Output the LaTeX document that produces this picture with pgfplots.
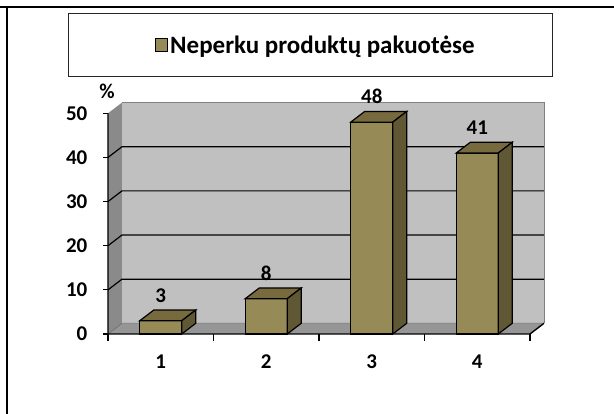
\documentclass[border=0pt]{standalone}
\usepackage{pgfplots}
\pgfplotsset{compat=1.18}
\usepackage{fontspec}
\setmainfont{Carlito}

\definecolor{barfront}{RGB}{150,139,86}
\definecolor{bartop}{RGB}{118,106,62}
\definecolor{barside}{RGB}{96,88,52}
\definecolor{backwall}{RGB}{192,192,192}
\definecolor{sidewall}{RGB}{138,138,138}
\definecolor{floorgray}{RGB}{150,150,150}

\newcommand{\lblfont}{\bfseries\fontsize{21}{25}\selectfont}
\newcommand{\legfont}{\bfseries\fontsize{25}{30}\selectfont}

% depth of the 3-D look (1px = 1pt)
\def\dx{14pt}
\def\dy{10.7pt}

% one bar as a box; \ry is the bar value, 4.414pt is the y unit
\pgfdeclareplotmark{cuboid}{%
  \pgfmathsetlengthmacro\bh{\ry*4.414pt}%
  \filldraw[fill=barfront] (-21pt,-\bh) rectangle (21pt,0pt);
  \filldraw[fill=bartop] (-21pt,0pt) -- (21pt,0pt) -- ++(\dx,\dy) -- ++(-42pt,0pt) -- cycle;
  \filldraw[fill=barside] (21pt,0pt) -- (21pt,-\bh) -- ++(\dx,\dy) -- (21pt+\dx,\dy) -- cycle;
}

\begin{document}
\begin{tikzpicture}
\path[use as bounding box] (0,0) rectangle (614pt,414pt);
% table cell borders
\draw[line width=2.2pt] (0,406.7pt) -- (614pt,406.7pt);
\draw[line width=2.2pt] (6.7pt,0) -- (6.7pt,407.8pt);
% legend frame
\draw[black!85, line width=1pt] (68pt,337pt) rectangle (552pt,400pt);

\begin{axis}[
  at={(108pt,80pt)}, anchor=south west,
  x=105.5pt, y=4.414pt,
  xmin=0.5, xmax=4.5, ymin=0, ymax=50,
  clip=false,
  axis line style={draw=none},
  tick pos=left, tick align=outside,
  xtick={1,2,3,4},
  minor xtick={0.5,1.5,2.5,3.5,4.5},
  ytick={0,10,...,50},
  major tick length=5pt, minor tick length=7pt,
  major x tick style={draw=none},
  minor x tick style={black, line width=1.2pt},
  major y tick style={black, line width=1.2pt},
  /pgf/number format/assume math mode=true,
  ticklabel style={font=\lblfont},
  yticklabel style={inner sep=0pt, anchor=east, xshift=-15.5pt},
  xticklabel style={inner sep=0pt, anchor=north, yshift=-15.5pt},
  legend style={at={(axis description cs:0.1114,1.3095)}, anchor=west,
    draw=none, fill=none, inner sep=0pt, font=\legfont},
]
% walls and floor
\fill[backwall] ([shift={(\dx,\dy)}]axis cs:0.5,0) rectangle ([shift={(\dx,\dy)}]axis cs:4.5,50);
\fill[sidewall] (axis cs:0.5,0) -- (axis cs:0.5,50) -- ([shift={(\dx,\dy)}]axis cs:0.5,50)
  -- ([shift={(\dx,\dy)}]axis cs:0.5,0) -- cycle;
\fill[floorgray] (axis cs:0.5,0) -- (axis cs:4.5,0) -- ([shift={(\dx,\dy)}]axis cs:4.5,0)
  -- ([shift={(\dx,\dy)}]axis cs:0.5,0) -- cycle;
\draw[black!50, line width=0.8pt] ([shift={(\dx,\dy)}]axis cs:0.5,50) -- ([shift={(\dx,\dy)}]axis cs:4.5,50)
  -- ([shift={(\dx,\dy)}]axis cs:4.5,0);
\draw[black!55, line width=0.8pt] (axis cs:0.5,0) -- ([shift={(\dx,\dy)}]axis cs:0.5,0)
  -- ([shift={(\dx,\dy)}]axis cs:4.5,0);
% grid lines
\pgfplotsinvokeforeach{10,20,30,40}{
  \draw[line width=1.2pt] (axis cs:0.5,#1) -- ([shift={(\dx,\dy)}]axis cs:0.5,#1)
    -- ([shift={(\dx,\dy)}]axis cs:4.5,#1);
}
% front axis lines
\draw[line width=1.4pt] (axis cs:0.5,50) -- (axis cs:0.5,0) -- (axis cs:4.5,0) -- ++(\dx,\dy);

\addplot[draw=black, only marks, mark=cuboid,
  mark options={draw=black, line width=1.2pt},
  visualization depends on={rawy \as \ry},
  nodes near coords,
  nodes near coords style={font=\lblfont, anchor=base, inner sep=0pt, yshift=18.2pt, text=black},
  legend image code/.code={\filldraw[fill=barfront, draw=black, line width=1pt] (0pt,-6.5pt) rectangle (12pt,6.5pt);}
] coordinates {(1,3) (2,8) (3,48) (4,41)};
\addlegendentry{Neperku produktų pakuotėse}

\node[font=\lblfont, anchor=base, inner sep=0pt] at ([shift={(-1pt,14.6pt)}]axis cs:0.5,50) {\%};
\end{axis}
\end{tikzpicture}
\end{document}
